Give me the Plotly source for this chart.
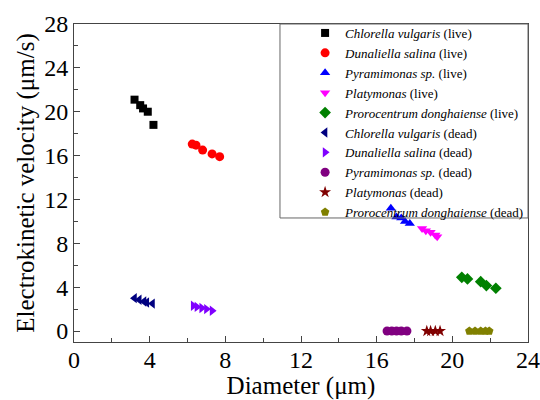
import plotly.graph_objects as go

# ---- data ----
names = [
    "<i>Chlorella vulgaris</i> (live)",
    "<i>Dunaliella salina</i> (live)",
    "<i>Pyramimonas sp.</i> (live)",
    "<i>Platymonas</i> (live)",
    "<i>Prorocentrum donghaiense</i> (live)",
    "<i>Chlorella vulgaris</i> (dead)",
    "<i>Dunaliella salina</i> (dead)",
    "<i>Pyramimonas sp.</i> (dead)",
    "<i>Platymonas</i> (dead)",
    "<i>Prorocentrum donghaiense</i> (dead)",
]
cv_live_x = [3.2, 3.5, 3.65, 3.9, 4.2]
cv_live_y = [21.1, 20.6, 20.3, 20.0, 18.8]
ds_live_x = [6.25, 6.45, 6.8, 7.3, 7.7]
ds_live_y = [17.05, 16.95, 16.5, 16.15, 15.9]
py_live_x = [16.75, 17.05, 17.3, 17.5, 17.75]
py_live_y = [11.2, 10.4, 10.3, 10.0, 9.8]
pl_live_x = [18.4, 18.6, 18.85, 19.1, 19.2]
pl_live_y = [9.35, 9.15, 9.0, 8.75, 8.6]
pd_live_x = [20.5, 20.8, 21.5, 21.8, 22.3]
pd_live_y = [4.9, 4.75, 4.5, 4.15, 3.9]
cv_dead_x = [3.2, 3.45, 3.7, 3.85, 4.15]
cv_dead_y = [3.0, 2.85, 2.7, 2.6, 2.5]
ds_dead_x = [6.3, 6.5, 6.75, 7.0, 7.3]
ds_dead_y = [2.3, 2.2, 2.1, 2.0, 1.85]
py_dead_x = [16.55, 16.8, 17.05, 17.3, 17.6]
py_dead_y = [0.0, 0.0, 0.0, 0.0, 0.0]
pl_dead_x = [18.65, 18.85, 19.1, 19.35]
pl_dead_y = [0.0, 0.0, 0.0, 0.0]
pd_dead_x = [20.9, 21.2, 21.5, 21.75, 21.95]
pd_dead_y = [0.0, 0.0, 0.0, 0.0, 0.0]

xs = [cv_live_x, ds_live_x, py_live_x, pl_live_x, pd_live_x,
      cv_dead_x, ds_dead_x, py_dead_x, pl_dead_x, pd_dead_x]
ys = [cv_live_y, ds_live_y, py_live_y, pl_live_y, pd_live_y,
      cv_dead_y, ds_dead_y, py_dead_y, pl_dead_y, pd_dead_y]

x_ticks = [0, 4, 8, 12, 16, 20, 24]
y_ticks = [0, 4, 8, 12, 16, 20, 24, 28]

# ---- styles ----
colors = ["#000000", "#FF0000", "#0000FF", "#FF00FF", "#008000",
          "#000080", "#8000FF", "#800080", "#800000", "#808000"]
symbols = ["square", "circle", "triangle-up", "triangle-down", "diamond",
           "triangle-left", "triangle-right", "circle", "star", "pentagon"]
sizes = [8, 9, 9, 9, 9, 9, 9, 9, 9, 9]

FONT = "Times New Roman, Liberation Serif, serif"

fig = go.Figure()
for n, x, y, c, s, sz in zip(names, xs, ys, colors, symbols, sizes):
    fig.add_trace(go.Scatter(
        x=x, y=y, mode="markers", name=n,
        marker=dict(color=c, symbol=s, size=sz, line=dict(width=0)),
    ))

axis_common = dict(
    showline=True, linecolor="#444", linewidth=1, mirror=True,
    ticks="inside", ticklen=6, tickcolor="#444", showgrid=False, zeroline=False,
    tickfont=dict(family=FONT, size=24, color="black"), automargin=False,
)
fig.update_xaxes(
    range=[0, 24], tickvals=x_ticks, ticklabelstandoff=-4,
    minor=dict(dtick=2, ticks="inside", ticklen=4, tickcolor="#444", showgrid=False),
    title=dict(text="Diameter (μm)", font=dict(family=FONT, size=25, color="black"), standoff=0),
    **axis_common,
)
fig.update_yaxes(
    range=[-1, 28], tickvals=y_ticks,
    minor=dict(dtick=2, ticks="inside", ticklen=4, tickcolor="#444", showgrid=False),
    title=dict(text="Electrokinetic velocity (μm/s)", font=dict(family=FONT, size=25, color="black"), standoff=2),
    **axis_common,
)

# legend box
fig.add_shape(type="rect", xref="paper", yref="paper",
              x0=0.4537, x1=1.0, y0=0.39, y1=1.0,
              line=dict(color="#666", width=1), fillcolor="rgba(0,0,0,0)")

fig.update_layout(
    width=540, height=400,
    margin=dict(l=74, r=12, t=24, b=58, autoexpand=False),
    paper_bgcolor="white", plot_bgcolor="white",
    font=dict(family=FONT, color="black"),
    legend=dict(x=0.509, y=0.955, yref="container", xanchor="left", yanchor="top",
                bgcolor="rgba(0,0,0,0)", borderwidth=0, maxheight=300,
                font=dict(family=FONT, size=13, color="black"),
                itemsizing="trace", itemwidth=30, tracegroupgap=0),
    showlegend=True,
)

fig.write_html("out.html", config={"displayModeBar": False},
               post_script="document.body.style.margin='0px';document.body.style.overflow='hidden';")
